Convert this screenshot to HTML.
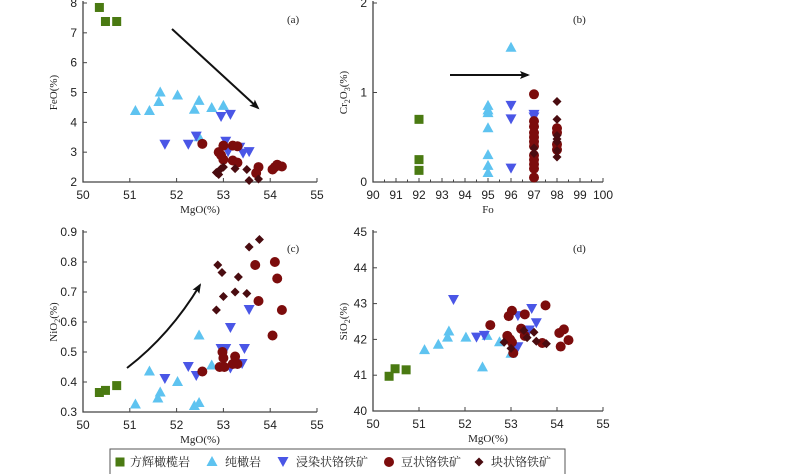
<!DOCTYPE html>
<html><head><meta charset="utf-8">
<style>
body{margin:0;background:#fff;width:800px;height:474px;overflow:hidden}
svg{display:block}
text{font-family:"Liberation Sans",sans-serif;fill:#222}
.serif{font-family:"Liberation Serif","Noto Serif CJK SC",serif}
</style></head>
<body>
<svg id="chart" width="800" height="474"></svg>
<script>
// ---- Data: panel (a) MgO vs FeO ----
const aHarzX=[50.35,50.48,50.72];
const aHarzY=[7.85,7.38,7.38];
const aDunX=[51.12,51.42,51.62,51.65,52.02,52.38,52.48,52.75,53.0,52.48];
const aDunY=[4.38,4.38,4.68,5.0,4.9,4.42,4.72,4.48,4.55,3.5];
const aDisX=[51.75,52.25,52.42,52.95,53.15,53.05,53.1,53.35,53.42,53.55];
const aDisY=[3.25,3.25,3.52,4.18,4.25,3.35,3.0,3.15,2.95,3.0];
const aNodX=[52.55,53.0,53.2,53.3,52.9,52.95,53.0,53.2,53.3,53.7,53.75,54.05,54.15,54.25,54.1];
const aNodY=[3.28,3.22,3.22,3.2,3.0,2.9,2.75,2.72,2.65,2.3,2.5,2.42,2.58,2.52,2.5];
const aMasX=[52.85,52.95,53.0,53.25,53.5,53.55,53.75,52.9];
const aMasY=[2.32,2.45,2.5,2.45,2.42,2.05,2.1,2.25];
// ---- Data: panel (b) Fo vs Cr2O3 ----
const bHarzX=[92,92,92];
const bHarzY=[0.70,0.25,0.13];
const bDunX=[95,95,95,95,95,95,95,96];
const bDunY=[0.85,0.80,0.77,0.6,0.3,0.18,0.1,1.5];
const bDisX=[96,96,96,97,97];
const bDisY=[0.85,0.7,0.15,0.75,0.72];
const bNodX=[97,97,97,97,97,97,97,97,97,97,97,97,98,98,98,98];
const bNodY=[0.98,0.68,0.62,0.55,0.5,0.45,0.4,0.3,0.25,0.2,0.15,0.05,0.6,0.55,0.42,0.36];
const bMasX=[97,97,98,98,98,98,98,98,98];
const bMasY=[0.38,0.32,0.9,0.7,0.52,0.48,0.45,0.35,0.28];
// ---- Data: panel (c) MgO vs NiO ----
const cHarzX=[50.35,50.48,50.72];
const cHarzY=[0.365,0.372,0.388];
const cDunX=[51.12,51.42,51.6,51.65,52.02,52.38,52.48,52.48,52.75,52.98];
const cDunY=[0.325,0.435,0.345,0.365,0.4,0.32,0.33,0.555,0.455,0.45];
const cDisX=[51.75,52.25,52.42,52.95,53.05,53.15,53.15,53.4,53.45,53.55];
const cDisY=[0.41,0.45,0.42,0.51,0.51,0.58,0.445,0.46,0.51,0.64];
const cNodX=[52.55,52.92,52.98,53.0,53.02,53.2,53.25,53.3,53.68,53.75,54.05,54.1,54.15,54.25];
const cNodY=[0.435,0.45,0.5,0.48,0.45,0.46,0.485,0.46,0.79,0.67,0.555,0.8,0.745,0.64];
const cMasX=[52.85,52.88,52.97,53.0,53.25,53.32,53.5,53.55,53.77];
const cMasY=[0.64,0.79,0.765,0.685,0.70,0.75,0.695,0.85,0.875];
// ---- Data: panel (d) MgO vs SiO2 ----
const dHarzX=[50.35,50.48,50.72];
const dHarzY=[40.97,41.18,41.15];
const dDunX=[51.12,51.42,51.62,51.65,52.02,52.38,52.48,52.75,53.0];
const dDunY=[41.7,41.85,42.05,42.22,42.05,41.22,42.1,41.92,41.6];
const dDisX=[51.75,52.25,52.42,53.15,53.45,53.55,53.4,53.15,53.05];
const dDisY=[43.1,42.05,42.1,42.65,42.85,42.45,42.25,41.78,41.75];
const dNodX=[52.55,52.95,53.02,53.3,53.75,52.92,52.98,53.02,53.05,53.22,53.3,53.68,54.05,54.15,54.08,54.25];
const dNodY=[42.4,42.65,42.8,42.7,42.95,42.1,42.0,41.92,41.62,42.3,42.1,41.9,42.18,42.28,41.8,41.98];
const dMasX=[52.85,53.0,53.28,53.35,53.5,53.55,53.77];
const dMasY=[41.92,41.75,42.25,42.05,42.2,41.95,41.88];
// ---- Tick labels ----
const mgoTicks=[50,51,52,53,54,55];
const foTicks=[90,91,92,93,94,95,96,97,98,99,100];
const feoTicks=[2,3,4,5,6,7,8];
const crTicks=[0,1,2];
const nioTicks=[0.3,0.4,0.5,0.6,0.7,0.8,0.9];
const sioTicks=[40,41,42,43,44,45];
const legendLabels=["方辉橄榄岩","纯橄岩","浸染状铬铁矿","豆状铬铁矿","块状铬铁矿"];

const NS="http://www.w3.org/2000/svg";
const svg=document.getElementById('chart');
function mk(tag,attrs,parent){const e=document.createElementNS(NS,tag);for(const k in attrs)e.setAttribute(k,attrs[k]);(parent||svg).appendChild(e);return e;}
const COL={harz:"#4a7a12",dun:"#5ec3f0",dis:"#4a56e6",nod:"#7c0c0c",mas:"#4a0c10"};

function marker(g,type,x,y){
  let e;
  if(type==='harz'){e=mk('rect',{x:x-4.5,y:y-4.5,width:9,height:9,fill:COL.harz},g);}
  else if(type==='dun'){e=mk('polygon',{points:`${x},${y-6} ${x-5.5},${y+4} ${x+5.5},${y+4}`,fill:COL.dun},g);}
  else if(type==='dis'){e=mk('polygon',{points:`${x},${y+5} ${x-5.5},${y-5} ${x+5.5},${y-5}`,fill:COL.dis},g);}
  else if(type==='nod'){e=mk('circle',{cx:x,cy:y,r:5,fill:COL.nod},g);}
  else {e=mk('polygon',{points:`${x},${y-4.5} ${x+4.5},${y} ${x},${y+4.5} ${x-4.5},${y}`,fill:COL.mas},g);}
  return e;
}

function panel(cfg){
  const g=mk('g',{});
  
  
  const sx=v=>cfg.x0+(v-cfg.xmin)/(cfg.xmax-cfg.xmin)*(cfg.x1-cfg.x0);
  const sy=v=>cfg.y0-(v-cfg.ymin)/(cfg.ymax-cfg.ymin)*(cfg.y0-cfg.y1);
  const ax=mk('path',{d:`M${cfg.x0},${cfg.y1-2} V${cfg.y0} H${cfg.x1}`,stroke:"#444",fill:"none","stroke-width":1.3},g);
  
  cfg.xt.forEach(v=>{
    mk('line',{x1:sx(v),x2:sx(v),y1:cfg.y0,y2:cfg.y0-4,stroke:"#444"},g);
    const t=mk('text',{x:sx(v),y:cfg.y0+17,"text-anchor":"middle","font-size":12},g);t.textContent=v;
    
  });
  if(cfg.minorX){for(let v=cfg.xmin;v<=cfg.xmax;v+=cfg.minorX){mk('line',{x1:sx(v),x2:sx(v),y1:cfg.y0,y2:cfg.y0-2.5,stroke:"#444"},g);}}
  cfg.yt.forEach(v=>{
    mk('line',{x1:cfg.x0,x2:cfg.x0+4,y1:sy(v),y2:sy(v),stroke:"#444"},g);
    const t=mk('text',{x:cfg.x0-6,y:sy(v)+4,"text-anchor":"end","font-size":12},g);t.textContent=v;
    
  });
  const xl=mk('text',{x:(cfg.x0+cfg.x1)/2,y:cfg.y0+31,"text-anchor":"middle","font-size":11,class:"serif"},g);
  xl.textContent=cfg.xlabel;
  const yl=mk('text',{transform:`translate(${cfg.x0-26},${(cfg.y0+cfg.y1)/2}) rotate(-90)`,"text-anchor":"middle","font-size":11,class:"serif"},g);
  yl.innerHTML=cfg.ylabel;
  const pl=mk('text',{x:cfg.x1-30,y:cfg.y1+20,"font-size":11,class:"serif"},g);
  pl.textContent=cfg.tag;
  cfg.series.forEach(s=>{
    s.xs.forEach((xv,i)=>{
      const m=marker(g,s.type,sx(xv),sy(s.ys[i]));
      
      
    });
  });
  return g;
}

panel({name:'panel-a-feo',tag:'(a)',x0:83,x1:317,y0:182,y1:3,xmin:50,xmax:55,ymin:2,ymax:8,xt:mgoTicks,yt:feoTicks,xlabel:'MgO(%)',ylabel:'FeO(%)',
 series:[{type:'harz',xs:aHarzX,ys:aHarzY},{type:'dun',xs:aDunX,ys:aDunY},{type:'dis',xs:aDisX,ys:aDisY},{type:'nod',xs:aNodX,ys:aNodY},{type:'mas',xs:aMasX,ys:aMasY}]});
panel({name:'panel-b-cr2o3',tag:'(b)',x0:373,x1:603,y0:182,y1:3,xmin:90,xmax:100,ymin:0,ymax:2,xt:foTicks,yt:crTicks,minorX:0.5,xlabel:'Fo',ylabel:'Cr<tspan font-size="8" dy="3">2</tspan><tspan dy="-3">O</tspan><tspan font-size="8" dy="3">3</tspan><tspan dy="-3">(%)</tspan>',
 series:[{type:'harz',xs:bHarzX,ys:bHarzY},{type:'dun',xs:bDunX,ys:bDunY},{type:'dis',xs:bDisX,ys:bDisY},{type:'nod',xs:bNodX,ys:bNodY},{type:'mas',xs:bMasX,ys:bMasY}]});
panel({name:'panel-c-nio',tag:'(c)',x0:83,x1:317,y0:412,y1:232,xmin:50,xmax:55,ymin:0.3,ymax:0.9,xt:mgoTicks,yt:nioTicks,xlabel:'MgO(%)',ylabel:'NiO<tspan font-size="8" dy="3">2</tspan><tspan dy="-3">(%)</tspan>',
 series:[{type:'harz',xs:cHarzX,ys:cHarzY},{type:'dun',xs:cDunX,ys:cDunY},{type:'dis',xs:cDisX,ys:cDisY},{type:'nod',xs:cNodX,ys:cNodY},{type:'mas',xs:cMasX,ys:cMasY}]});
panel({name:'panel-d-sio2',tag:'(d)',x0:373,x1:603,y0:411,y1:232,xmin:50,xmax:55,ymin:40,ymax:45,xt:mgoTicks,yt:sioTicks,xlabel:'MgO(%)',ylabel:'SiO<tspan font-size="8" dy="3">2</tspan><tspan dy="-3">(%)</tspan>',
 series:[{type:'harz',xs:dHarzX,ys:dHarzY},{type:'dun',xs:dDunX,ys:dDunY},{type:'dis',xs:dDisX,ys:dDisY},{type:'nod',xs:dNodX,ys:dNodY},{type:'mas',xs:dMasX,ys:dMasY}]});

// arrows
const defs=mk('defs',{});
const mkr=mk('marker',{id:'ah',markerWidth:10,markerHeight:8,refX:8,refY:4,orient:'auto',markerUnits:'userSpaceOnUse'},defs);
mk('path',{d:'M0,0 L10,4 L0,8 L2,4 Z',fill:'#111'},mkr);
const ar1=mk('line',{x1:172,y1:29,x2:258,y2:108,stroke:'#111','stroke-width':2,'marker-end':'url(#ah)'});

const ar2=mk('line',{x1:450,y1:75,x2:528,y2:75,stroke:'#111','stroke-width':2,'marker-end':'url(#ah)'});

const ar3=mk('path',{d:'M127,368 Q170,335 200,285',stroke:'#111','stroke-width':2,fill:'none','marker-end':'url(#ah)'});


// legend
const lg=mk('g',{});


mk('rect',{x:110,y:449,width:455,height:30,fill:'#fff',stroke:'#555','stroke-width':1},lg);
const lgTypes=['harz','dun','dis','nod','mas'];
const lgMx=[120,212,283,389,479];
const lgTx=[130,225,296,401,491];
lgTypes.forEach((t,i)=>{
  const m=marker(lg,t,lgMx[i],462);
  
  
  const tx=mk('text',{x:lgTx[i],y:466,'font-size':12,class:'serif'},lg);
  tx.textContent=legendLabels[i];
  
  
});
</script>
</body></html>
